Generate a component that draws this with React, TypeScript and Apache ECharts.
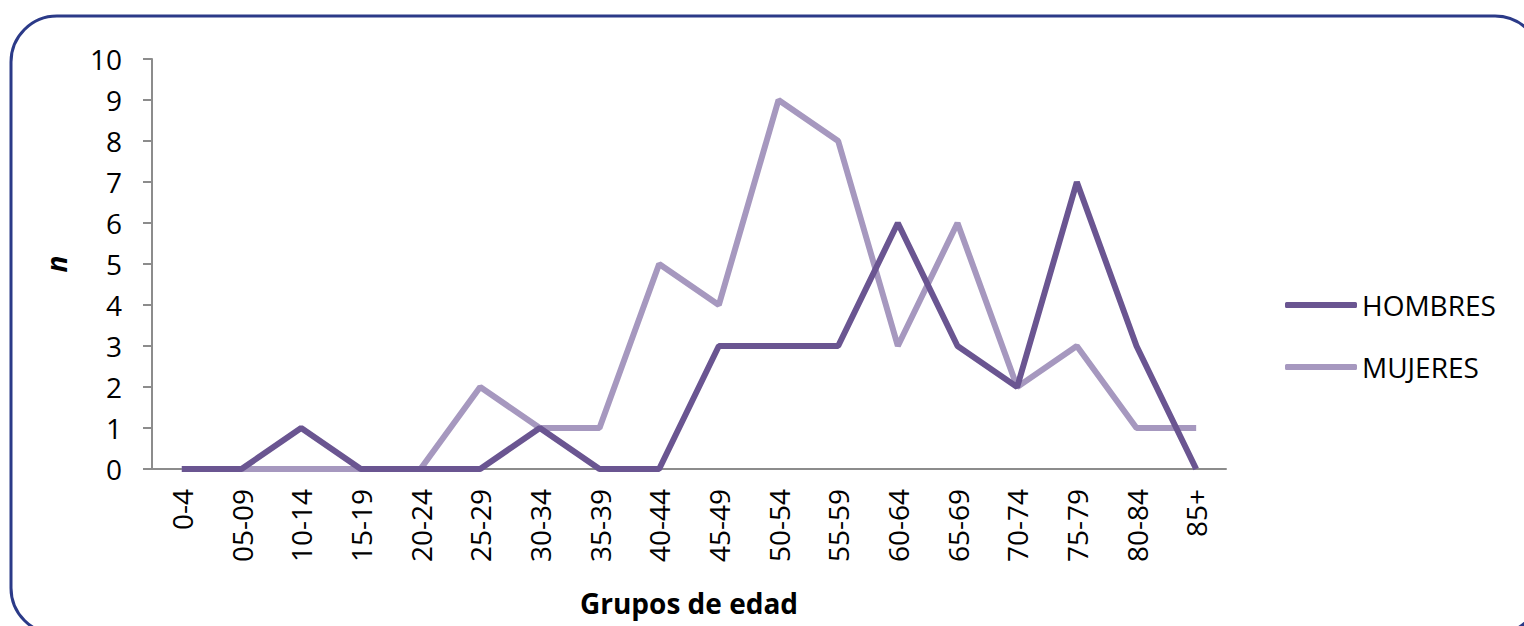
import React, { useEffect, useRef } from "react";
import * as echarts from "echarts";

const categories = ["0-4", "05-09", "10-14", "15-19", "20-24", "25-29", "30-34", "35-39", "40-44", "45-49", "50-54", "55-59", "60-64", "65-69", "70-74", "75-79", "80-84", "85+"];
const hombres = [0, 0, 1, 0, 0, 0, 1, 0, 0, 3, 3, 3, 6, 3, 2, 7, 3, 0];
const mujeres = [0, 0, 0, 0, 0, 2, 1, 1, 5, 4, 9, 8, 3, 6, 2, 3, 1, 1];
const yTicks = [0, 1, 2, 3, 4, 5, 6, 7, 8, 9, 10];

const FONT = "'Open Sans', 'Noto Sans', sans-serif";
const FS = 28;

export default function App() {
  const ref = useRef<HTMLDivElement>(null);
  useEffect(() => {
    if (!ref.current) return;
    const chart = echarts.init(ref.current, undefined, { renderer: "svg" });
    chart.setOption({
      animation: false,
      backgroundColor: "#ffffff",
      graphic: [
        {
          type: "rect",
          shape: { x: 11, y: 16, width: 1530, height: 618, r: 46 },
          style: { fill: "none", stroke: "#2B3A88", lineWidth: 3 },
          z: 0,
        },
      ],
      grid: { left: 152, right: 298, top: 59, bottom: 157, containLabel: false, outerBoundsMode: "none" },
      legend: {
        orient: "vertical",
        left: 1285,
        top: 290,
        padding: 0,
        itemWidth: 72,
        itemHeight: 6,
        itemGap: 32,
        icon: "roundRect",
        textStyle: { fontFamily: FONT, fontSize: FS, lineHeight: 30, color: "#000" },
        data: ["HOMBRES", "MUJERES"],
      },
      xAxis: {
        type: "category",
        data: categories,
        boundaryGap: true,
        name: "Grupos de edad",
        nameLocation: "middle",
        nameGap: 120,
        nameTextStyle: { fontFamily: FONT, fontSize: FS, fontWeight: "bold", color: "#000" },
        axisLine: { lineStyle: { color: "#8C8C8C", width: 2 } },
        axisTick: { show: false },
        axisLabel: { rotate: 90, fontFamily: FONT, fontSize: FS, color: "#000", margin: 20, interval: 0 },
      },
      yAxis: {
        type: "value",
        min: 0,
        max: 10,
        interval: 1,
        name: "n",
        nameLocation: "middle",
        nameGap: 82,
        nameRotate: 90,
        nameTextStyle: { fontFamily: FONT, fontSize: FS, fontWeight: "bold", fontStyle: "italic", color: "#000" },
        splitLine: { show: false },
        axisLine: { show: true, lineStyle: { color: "#8C8C8C", width: 2 } },
        axisTick: { show: true, length: 9, lineStyle: { color: "#8C8C8C", width: 2 } },
        axisLabel: {
          fontFamily: FONT,
          fontSize: FS,
          color: "#000",
          margin: 30,
          formatter: (v: number) => (yTicks.includes(v) ? String(v) : ""),
        },
      },
      series: [
        {
          name: "HOMBRES",
          type: "line",
          data: hombres,
          symbol: "none",
          lineStyle: { color: "#6A5591", width: 6 },
          itemStyle: { color: "#6A5591" },
          z: 3,
        },
        {
          name: "MUJERES",
          type: "line",
          data: mujeres,
          symbol: "none",
          lineStyle: { color: "#A698BF", width: 6 },
          itemStyle: { color: "#A698BF" },
          z: 2,
        },
      ],
    });
    return () => chart.dispose();
  }, []);
  return <div ref={ref} style={{ width: 1524, height: 626, position: "fixed", left: 0, top: 0 }} />;
}
